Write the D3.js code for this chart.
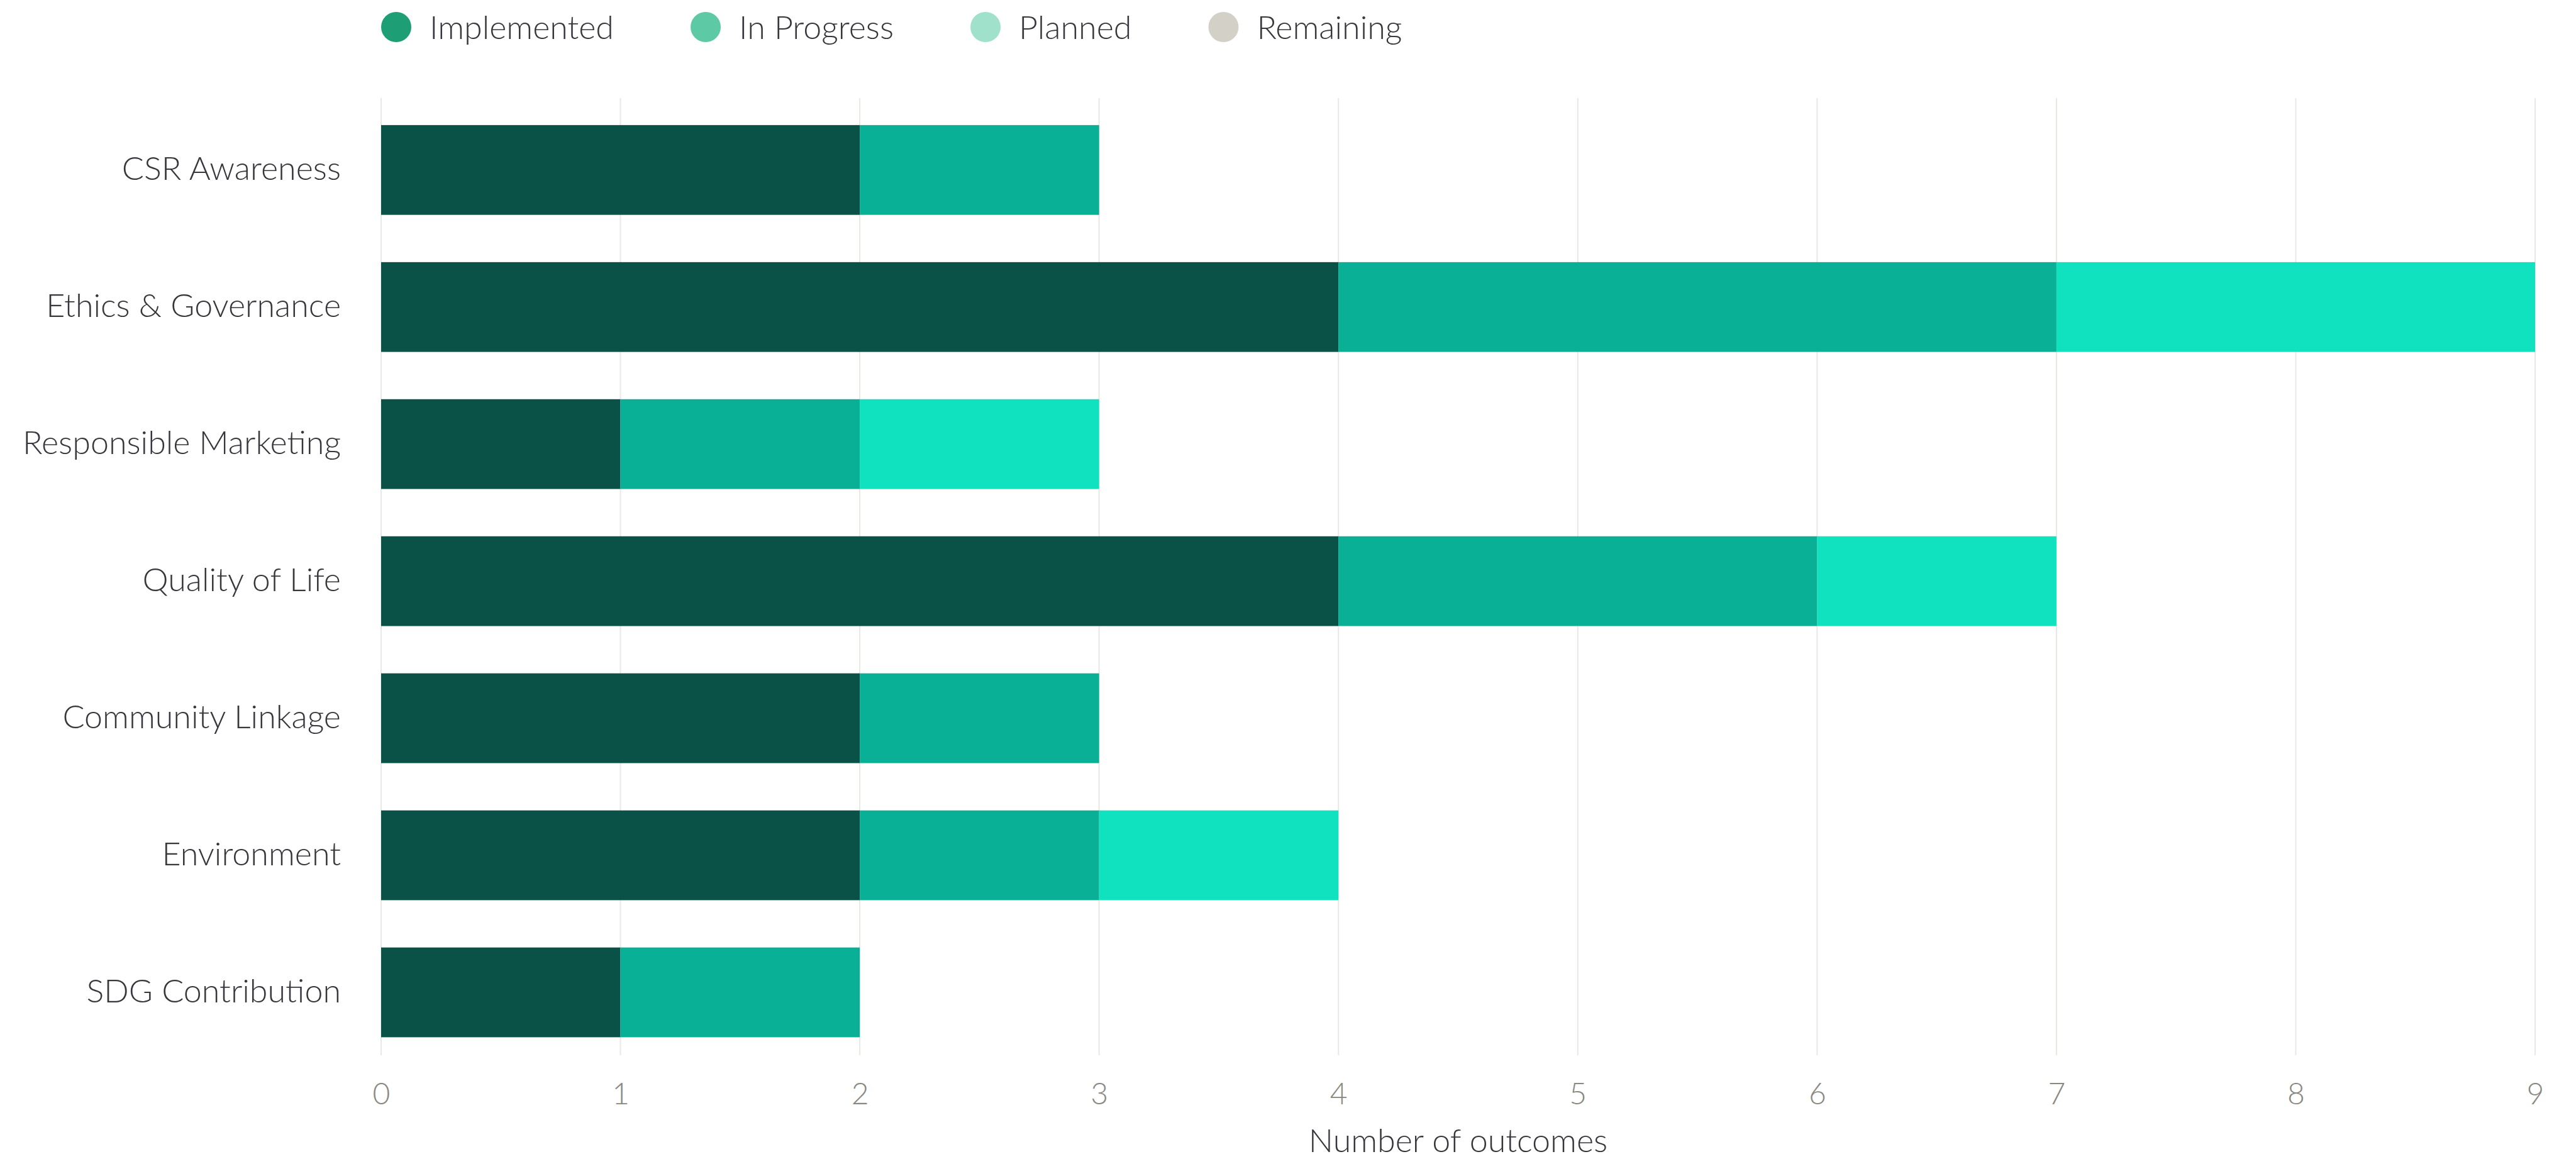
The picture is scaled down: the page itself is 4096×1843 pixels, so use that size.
<!DOCTYPE html>
<html>
<head>
<meta charset="utf-8">
<script src="https://cdn.jsdelivr.net/npm/d3@7"></script>
<style>
  body { margin: 0; background: #fff; }
  svg { display: block; font-family: Lato, "Open Sans", sans-serif; font-weight: 300; }
</style>
</head>
<body>
<div id="plot"></div>
<script>
// Data
const categories = ["CSR Awareness", "Ethics & Governance", "Responsible Marketing",
    "Quality of Life", "Community Linkage", "Environment", "SDG Contribution"];
const implemented = [2, 4, 1, 4, 2, 2, 1];
const inProgress = [1, 3, 1, 2, 1, 1, 1];
const planned = [0, 2, 1, 1, 0, 1, 0];
const remaining = [0, 0, 0, 0, 0, 0, 0];
const seriesNames = ["Implemented", "In Progress", "Planned", "Remaining"];
const barColors = ["#0a5247", "#0ab096", "#10e1be", "#d3d1c7"];
const legendColors = ["#1d9e75", "#5dcaa5", "#9fe1cb", "#d3d1c7"];
const xTicks = [0, 1, 2, 3, 4, 5, 6, 7, 8, 9];
const xTitle = "Number of outcomes";

const width = 4096;
const height = 1843;
const margin = { top: 156, right: 65, bottom: 165, left: 606 };

const rows = categories.map((c, i) => ({
    category: c,
    "Implemented": implemented[i],
    "In Progress": inProgress[i],
    "Planned": planned[i],
    "Remaining": remaining[i]
}));

const svg = d3.select("#plot")
    .append("svg")
    .attr("width", width)
    .attr("height", height);

const xScale = d3.scaleLinear()
    .domain([0, 9])
    .range([margin.left, width - margin.right]);

const yScale = d3.scaleBand()
    .domain(categories)
    .range([margin.top, height - margin.bottom])
    .paddingInner(0.345)
    .paddingOuter(0.164)
    .align(0.6);

const color = d3.scaleOrdinal().domain(seriesNames).range(barColors);

// Gridlines
svg.append("g")
    .selectAll("line")
    .data(xTicks)
    .join("line")
    .attr("x1", (d) => xScale(d))
    .attr("x2", (d) => xScale(d))
    .attr("y1", margin.top)
    .attr("y2", height - margin.bottom)
    .attr("stroke", "#e8e8e4")
    .attr("stroke-width", 2);

// Stacked bars
const stacked = d3.stack().keys(seriesNames)(rows);

svg.append("g")
    .selectAll("g")
    .data(stacked)
    .join("g")
    .attr("fill", (s) => color(s.key))
    .selectAll("rect")
    .data((s) => s.filter((d) => d[1] > d[0]))
    .join("rect")
    .attr("x", (d) => xScale(d[0]))
    .attr("y", (d) => yScale(d.data.category))
    .attr("width", (d) => xScale(d[1]) - xScale(d[0]))
    .attr("height", yScale.bandwidth());

// Axes
const xAxis = svg.append("g")
    .attr("transform", `translate(0,${height - margin.bottom})`)
    .call(d3.axisBottom(xScale).tickValues(xTicks).tickSize(0).tickPadding(44));
xAxis.select(".domain").remove();
xAxis.selectAll("text")
    .attr("fill", "#888780")
    .style("font-size", "48px")
    .style("font-family", "Lato, 'Open Sans', sans-serif");

const yAxis = svg.append("g")
    .attr("transform", `translate(${margin.left},0)`)
    .call(d3.axisLeft(yScale).tickSize(0).tickPadding(64));
yAxis.select(".domain").remove();
yAxis.selectAll("text")
    .attr("fill", "#36373d")
    .attr("dy", "0.3em")
    .style("font-size", "52px")
    .style("font-family", "Lato, 'Open Sans', sans-serif");

svg.append("text")
    .attr("x", (xScale(0) + xScale(9)) / 2)
    .attr("y", 1832)
    .attr("text-anchor", "middle")
    .attr("fill", "#36373d")
    .style("font-size", "52px")
    .text(xTitle);

// Legend
const legend = svg.append("g").attr("transform", `translate(${margin.left},43)`);
let lx = 0;
seriesNames.forEach((name, i) => {
    const item = legend.append("g").attr("transform", `translate(${lx},0)`);
    item.append("circle")
        .attr("cx", 24)
        .attr("cy", 0)
        .attr("r", 24)
        .attr("fill", legendColors[i]);
    const t = item.append("text")
        .attr("x", 77)
        .attr("y", 19)
        .attr("fill", "#36373d")
        .style("font-size", "52px")
        .text(name);
    lx += 77 + t.node().getComputedTextLength() + 122;
});
</script>
</body>
</html>
